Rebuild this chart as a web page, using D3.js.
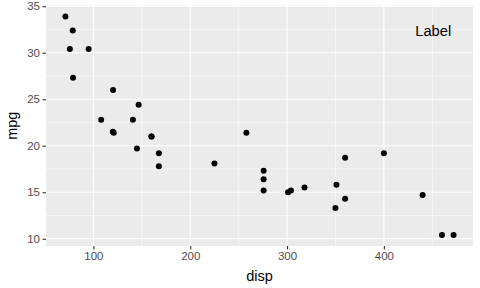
<!DOCTYPE html>
<html>
<head>
<meta charset="utf-8">
<script src="https://cdn.jsdelivr.net/npm/d3@7"></script>
<style>
  body { margin: 0; background: #fff; }
  text { font-family: "Liberation Sans", Arial, sans-serif; }
</style>
</head>
<body>
<div id="chart"></div>
<script>
// mtcars: disp vs mpg
var disp = [160, 160, 108, 258, 360, 225, 360, 146.7, 140.8, 167.6, 167.6, 275.8, 275.8, 275.8,
            472, 460, 440, 78.7, 75.7, 71.1, 120.1, 318, 304, 350, 400, 79, 120.3, 95.1, 351, 145, 301, 121];
var mpg = [21.0, 21.0, 22.8, 21.4, 18.7, 18.1, 14.3, 24.4, 22.8, 19.2, 17.8, 16.4, 17.3, 15.2,
           10.4, 10.4, 14.7, 32.4, 30.4, 33.9, 21.5, 15.5, 15.2, 13.3, 19.2, 27.3, 26.0, 30.4, 15.8, 19.7, 15.0, 21.4];
var xTicks = [100, 200, 300, 400];
var yTicks = [10, 15, 20, 25, 30, 35];
var xMinor = [150, 250, 350, 450];
var yMinor = [12.5, 17.5, 22.5, 27.5, 32.5];
var note = { x: 451, y: 32.3, text: "Label" };

var width = 480, height = 288;
var panel = { left: 46, right: 473, top: 5.5, bottom: 246 };

var svg = d3.select("#chart").append("svg")
  .attr("width", width)
  .attr("height", height);

// ggplot style 5% expansion
function expand(ext) {
  var d = (ext[1] - ext[0]) * 0.05;
  return [ext[0] - d, ext[1] + d];
}

var x = d3.scaleLinear().domain(expand(d3.extent(disp))).range([panel.left, panel.right]);
var y = d3.scaleLinear().domain(expand(d3.extent(mpg))).range([panel.bottom, panel.top]);

svg.append("rect")
  .attr("x", panel.left).attr("y", panel.top)
  .attr("width", panel.right - panel.left)
  .attr("height", panel.bottom - panel.top)
  .attr("fill", "#ebebeb");

var grid = svg.append("g");
grid.selectAll(".xminor").data(xMinor).enter().append("line")
  .attr("x1", d => x(d)).attr("x2", d => x(d))
  .attr("y1", panel.top).attr("y2", panel.bottom)
  .attr("stroke", "#fff").attr("stroke-width", 0.55);
grid.selectAll(".yminor").data(yMinor).enter().append("line")
  .attr("y1", d => y(d)).attr("y2", d => y(d))
  .attr("x1", panel.left).attr("x2", panel.right)
  .attr("stroke", "#fff").attr("stroke-width", 0.55);
grid.selectAll(".xmajor").data(xTicks).enter().append("line")
  .attr("x1", d => x(d)).attr("x2", d => x(d))
  .attr("y1", panel.top).attr("y2", panel.bottom)
  .attr("stroke", "#fff").attr("stroke-width", 1.1);
grid.selectAll(".ymajor").data(yTicks).enter().append("line")
  .attr("y1", d => y(d)).attr("y2", d => y(d))
  .attr("x1", panel.left).attr("x2", panel.right)
  .attr("stroke", "#fff").attr("stroke-width", 1.1);

// points
svg.append("g").selectAll("circle")
  .data(disp.map((d, i) => [d, mpg[i]]))
  .enter().append("circle")
  .attr("cx", d => x(d[0]))
  .attr("cy", d => y(d[1]))
  .attr("r", 3)
  .attr("fill", "#000");

// axes
var xAxis = svg.append("g")
  .attr("transform", "translate(0," + panel.bottom + ")")
  .call(d3.axisBottom(x).tickValues(xTicks).tickSize(3.5).tickPadding(2.5));
var yAxis = svg.append("g")
  .attr("transform", "translate(" + panel.left + ",0)")
  .call(d3.axisLeft(y).tickValues(yTicks).tickSize(3.5).tickPadding(2.5));

[xAxis, yAxis].forEach(function (a) {
  a.select(".domain").remove();
  a.selectAll(".tick line").attr("stroke", "#333").attr("stroke-width", 1.1);
  a.selectAll(".tick text")
    .attr("fill", "#4d4d4d")
    .style("font-size", "11.5px")
    .style("font-family", "'Liberation Sans', Arial, sans-serif");
});

svg.append("text")
  .attr("x", (panel.left + panel.right) / 2)
  .attr("y", 281)
  .attr("text-anchor", "middle")
  .style("font-size", "14.5px")
  .text("disp");

svg.append("text")
  .attr("transform", "translate(17," + ((panel.top + panel.bottom) / 2) + ") rotate(-90)")
  .attr("text-anchor", "middle")
  .style("font-size", "14.5px")
  .text("mpg");

svg.append("text")
  .attr("x", x(note.x))
  .attr("y", y(note.y))
  .attr("text-anchor", "middle")
  .attr("dominant-baseline", "central")
  .style("font-size", "14.7px")
  .text(note.text);
</script>
</body>
</html>
